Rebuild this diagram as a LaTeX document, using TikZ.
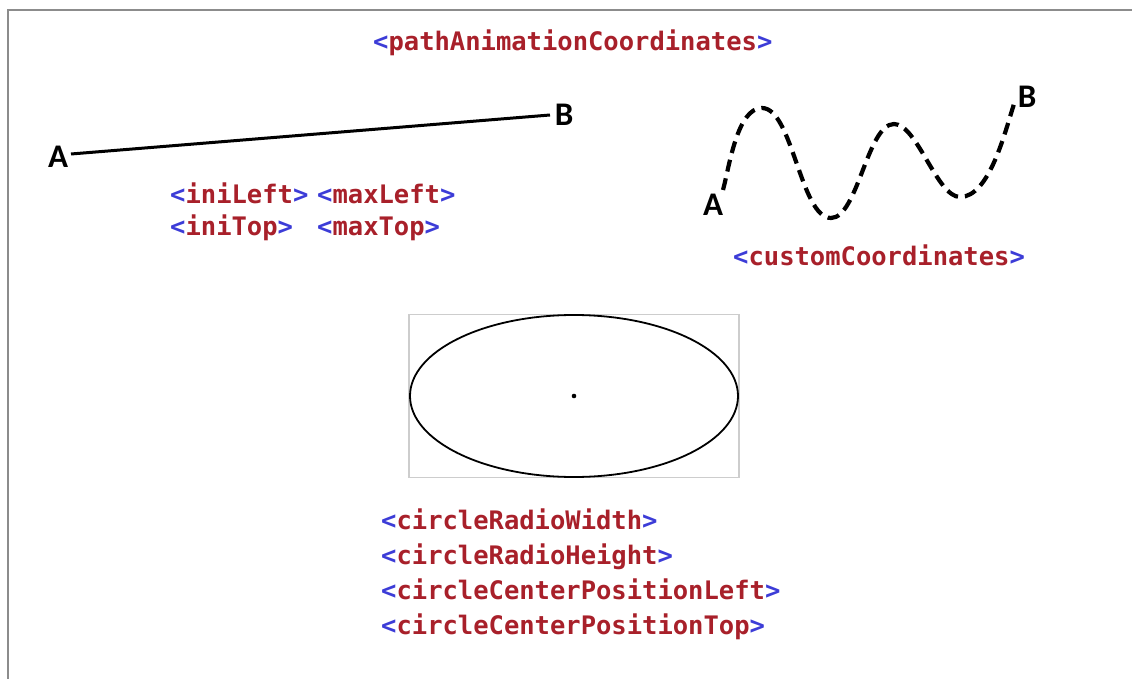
\documentclass[tikz,border=0pt]{standalone}
\usepackage{fontspec}
\newfontfamily\codefont{DejaVu Sans Mono}
\newfontfamily\labelfont{Carlito}
\definecolor{tagblue}{RGB}{60,60,215}
\definecolor{tagred}{RGB}{168,32,42}
\definecolor{framegray}{RGB}{140,140,140}
\definecolor{boxgray}{RGB}{205,205,205}
\newcommand{\xmltag}[1]{{\color{tagblue}<}{\color{tagred}#1}{\color{tagblue}>}}
\begin{document}
\begin{tikzpicture}[x=1pt,y=-1pt,
  codetext/.style={anchor=base west,inner sep=0pt,font=\codefont\bfseries\fontsize{25.5}{25.5}\selectfont},
  endlabel/.style={inner sep=0pt,font=\labelfont\bfseries\fontsize{33}{33}\selectfont},
  wave/.style={line width=4.2pt,dash pattern=on 12pt off 7pt},
  segment/.style={line width=3pt}]
\useasboundingbox (0,0) rectangle (1132,679);
% outer frame (top and left edges only)
\draw[framegray,line width=2pt] (8,679) -- (8,10) -- (1132,10);

% title
\node[codetext] (title) at (373,51) {\xmltag{pathAnimationCoordinates}};

% straight path A -> B
\node[endlabel] (la) at (58,157) {A};
\node[endlabel] (lb) at (564,115) {B};
\coordinate (sa) at (71,154);
\coordinate (sb) at (550,115);
\draw[segment] (sa) -- (sb);
\node[codetext] (inileft) at (170,204) {\xmltag{iniLeft}};
\node[codetext] (maxleft) at (317,204) {\xmltag{maxLeft}};
\node[codetext] (initop) at (170,235) {\xmltag{iniTop}};
\node[codetext] (maxtop) at (317,235) {\xmltag{maxTop}};

% custom wavy path A -> B
\node[endlabel] (wla) at (713,205) {A};
\node[endlabel] (wlb) at (1027,97) {B};
\coordinate (wa) at (723,190);
\coordinate (p1) at (762,108);
\coordinate (t1) at (831,218);
\coordinate (p2) at (894,124);
\coordinate (t2) at (960,197);
\coordinate (wb) at (1014,104);
\draw[wave] (wa) to[out=75,in=180,looseness=0.7] (p1)
  to[out=0,in=180,looseness=0.6] (t1)
  to[out=0,in=180,looseness=0.6] (p2)
  to[out=0,in=180,looseness=0.6] (t2)
  to[out=0,in=252,looseness=0.7] (wb);
\node[codetext] (custom) at (733,265) {\xmltag{customCoordinates}};

% ellipse inside its bounding box
\node[draw=boxgray,line width=1.2pt,minimum width=330pt,minimum height=163pt,inner sep=0pt] (box) at (574,396) {};
\draw[line width=1.8pt] (box.center) ellipse [x radius=164pt,y radius=81pt];
\fill (box.center) circle (2.3pt);

% ellipse parameters
\node[codetext] (rw) at (381,529) {\xmltag{circleRadioWidth}};
\node[codetext] (rh) at (381,564) {\xmltag{circleRadioHeight}};
\node[codetext] (cl) at (381,599) {\xmltag{circleCenterPositionLeft}};
\node[codetext] (ct) at (381,634) {\xmltag{circleCenterPositionTop}};
\end{tikzpicture}
\end{document}
